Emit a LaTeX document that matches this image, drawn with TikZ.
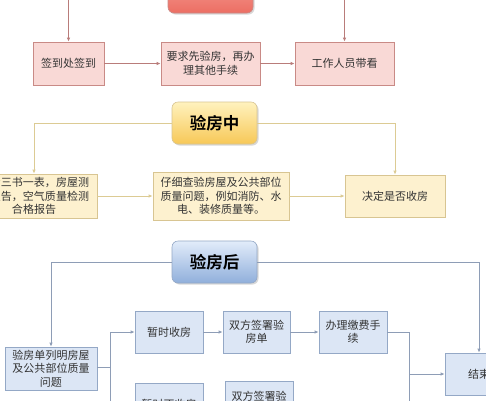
\documentclass[tikz,border=0pt]{standalone}
\usepackage{fontspec}
\setmainfont{Noto Sans CJK SC}
\newfontfamily\hdfont{Noto Sans CJK SC Bold}
\usetikzlibrary{arrows.meta,shadows}
\definecolor{prefill}{HTML}{F9D9D6}
\definecolor{predraw}{HTML}{C98A86}
\definecolor{preline}{HTML}{B97C7A}
\definecolor{pretop}{HTML}{F7A59C}
\definecolor{prebot}{HTML}{EC6E63}
\definecolor{midfill}{HTML}{FDF1CF}
\definecolor{middraw}{HTML}{D8C592}
\definecolor{midline}{HTML}{DCCB94}
\definecolor{midtop}{HTML}{FFF2BE}
\definecolor{midbot}{HTML}{F7C857}
\definecolor{postfill}{HTML}{DCE6F5}
\definecolor{postdraw}{HTML}{94A8C6}
\definecolor{postline}{HTML}{8E9DB6}
\definecolor{posttop}{HTML}{E2ECFA}
\definecolor{postbot}{HTML}{90AFDB}

\tikzset{
  box/.style={draw,line width=0.8pt,inner sep=2pt,align=center,text=black!80,
    font=\fontsize{11}{13.5}\selectfont,
    drop shadow={shadow xshift=1.2pt,shadow yshift=-1.2pt,opacity=0.25}},
  prebox/.style={box,fill=prefill,draw=predraw},
  midbox/.style={box,fill=midfill,draw=middraw},
  postbox/.style={box,fill=postfill,draw=postdraw},
  head/.style={rounded corners=6pt,minimum width=85pt,minimum height=42pt,line width=0.6pt,
    font=\hdfont\fontsize{16.5}{18}\selectfont,
    drop shadow={shadow xshift=1.5pt,shadow yshift=-1.5pt,opacity=0.3}},
  link/.style={line width=0.8pt,-{Latex[length=4pt,width=3.5pt]}},
}

\begin{document}
\begin{tikzpicture}[x=1pt,y=-1pt]
  \useasboundingbox (0,0) rectangle (486,400);
  \fill[white] (0,0) rectangle (486,400);
  \clip (0,0) rectangle (486,400);

  % before
  \node[head,top color=pretop,bottom color=prebot,draw=predraw] (pre) at (210.5,-8) {验房前};
  \node[prebox,minimum width=71pt,minimum height=43pt] (sign) at (68.5,63.5) {签到处签到};
  \node[prebox,minimum width=99pt,minimum height=43pt] (ask) at (210.5,63.5) {要求先验房，再办\\理其他手续};
  \node[prebox,minimum width=99pt,minimum height=43pt] (staff) at (344.5,63.5) {工作人员带看};
  \draw[link,preline] (pre.west) -| (sign.north);
  \draw[link,preline] (pre.east) -| (staff.north);
  \draw[link,preline] (sign) -- (ask);
  \draw[link,preline] (ask) -- (staff);

  % during
  \node[head,top color=midtop,bottom color=midbot,draw=middraw] (mid) at (214.5,123) {验房中};
  \node[midbox,minimum width=126pt,minimum height=44pt] (docs) at (34,196) {出示三书一表，房屋测\\绘报告，空气质量检测\\合格报告};
  \node[midbox,minimum width=136pt,minimum height=48pt] (check) at (221,196) {仔细查验房屋及公共部位\\质量问题，例如消防、水\\电、装修质量等。};
  \node[midbox,minimum width=100pt,minimum height=42pt] (decide) at (395,196) {决定是否收房};
  \draw[link,midline] (mid.west) -| (docs.north);
  \draw[link,midline] (mid.east) -| (decide.north);
  \draw[link,midline] (docs) -- (check);
  \draw[link,midline] (check) -- (decide);

  % after
  \node[head,top color=posttop,bottom color=postbot,draw=postdraw] (post) at (214.5,262) {验房后};
  \node[postbox,minimum width=92pt,minimum height=43pt] (list) at (51,368.5) {验房单列明房屋\\及公共部位质量\\问题};
  \node[postbox,minimum width=68pt,minimum height=42pt] (take) at (169,332) {暂时收房};
  \node[postbox,minimum width=67pt,minimum height=42pt] (signa) at (256.5,332) {双方签署验\\房单};
  \node[postbox,minimum width=68pt,minimum height=42pt] (pay) at (353,332) {办理缴费手\\续};
  \node[postbox,minimum width=68pt,minimum height=42pt] (done) at (479,374) {结束};
  \node[postbox,minimum width=68pt,minimum height=42pt] (notake) at (169,404) {暂时不收房};
  \node[postbox,minimum width=68pt,minimum height=44pt] (signb) at (259,403) {双方签署验\\房单};
  \coordinate (fork) at (110,367);
  \coordinate (join) at (409,374);
  \draw[link,postline] (post.west) -| (list.north);
  \draw[link,postline] (post.east) -| (done.north);
  \draw[postline,line width=0.8pt] (list.east |- fork) -- (fork);
  \draw[link,postline] (fork) |- (take.west);
  \draw[link,postline] (fork) |- (notake.west);
  \draw[link,postline] (take) -- (signa);
  \draw[link,postline] (signa) -- (pay);
  \draw[link,postline] (notake) -- (signb);
  \draw[postline,line width=0.8pt] (pay.east) -| (join);
  \draw[postline,line width=0.8pt] (signb.east) -| (join);
  \draw[link,postline] (join) -- (done.west);
\end{tikzpicture}
\end{document}
